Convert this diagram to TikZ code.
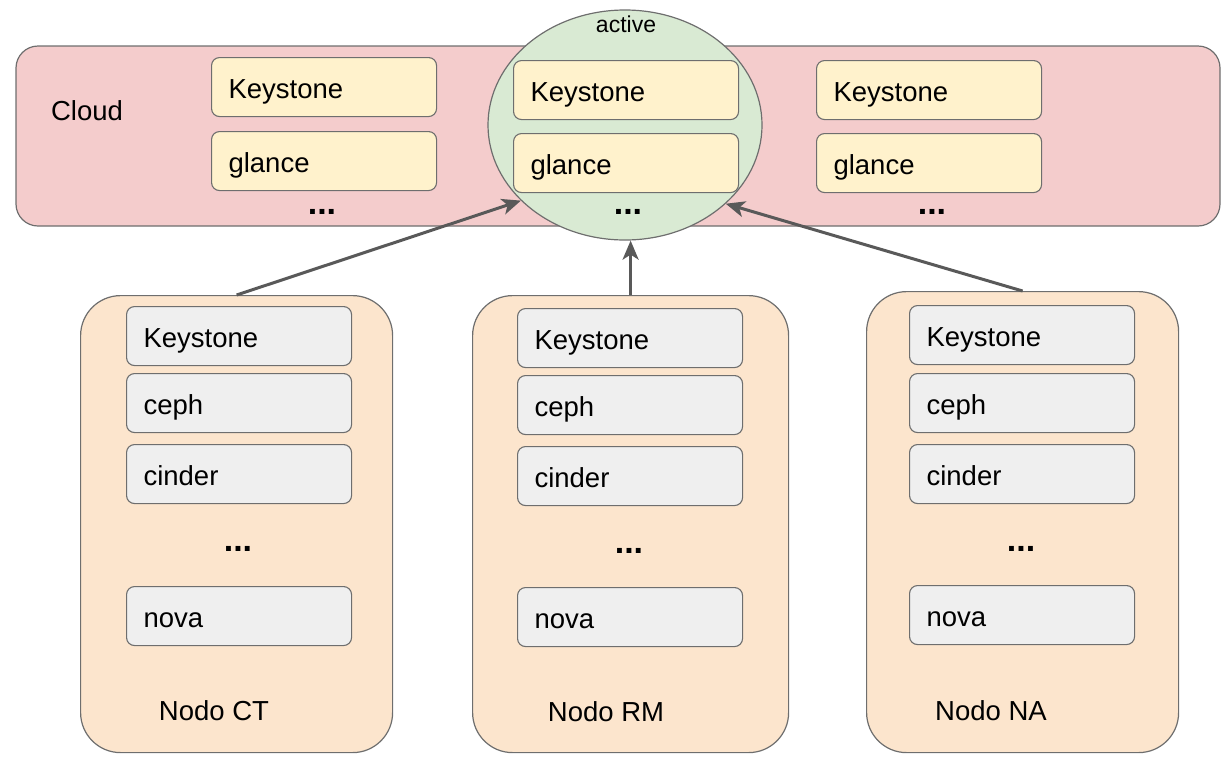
\documentclass[tikz,border=0pt]{standalone}
\usepackage{fontspec}
\setmainfont{Liberation Sans}
\usetikzlibrary{shapes.geometric,arrows.meta}
\definecolor{cloudfill}{HTML}{F4CCCC}
\definecolor{yfill}{HTML}{FFF2CC}
\definecolor{gfill}{HTML}{D9EAD3}
\definecolor{nfill}{HTML}{FCE5CD}
\definecolor{ifill}{HTML}{EFEFEF}
\definecolor{edge}{HTML}{6E6E6E}
\definecolor{arr}{HTML}{595959}
\tikzset{
  txt/.style={font=\fontsize{27.5}{32}\selectfont, text=black},
  cloudbox/.style={draw=edge, fill=cloudfill, line width=1.2pt, rounded corners=22pt},
  nodebox/.style={draw=edge, fill=nfill, line width=1.2pt, rounded corners=40pt},
  svc/.style={txt, draw=edge, line width=1.1pt, rounded corners=8pt, minimum width=225pt, minimum height=59pt,
     text width=191pt, inner xsep=17pt, inner ysep=0pt, align=left, anchor=north west,
     text height=22pt, text depth=0pt},
  ysvc/.style={svc, fill=yfill},
  gsvc/.style={svc, fill=ifill},
  dots/.style={font=\fontsize{34}{36}\selectfont\bfseries},
  conn/.style={draw=arr, line width=3pt, -{Stealth[length=19pt,width=16pt,inset=5pt]}},
}
\begin{document}
\begin{tikzpicture}[x=1pt,y=-1pt]
\useasboundingbox (0,0) rectangle (1230,756);
% cloud
\draw[cloudbox] (16,46) rectangle (1220,226);
\node[txt] (cloudlbl) at (87,111) {Cloud};
\node[draw=edge, fill=gfill, line width=1.2pt, ellipse, minimum width=274pt, minimum height=230pt, inner sep=0pt] (act) at (625,125) {};
\node[font=\fontsize{23}{26}\selectfont] (actlbl) at (626,24) {active};
% cloud services
\node[ysvc] (k1) at (211,57) {Keystone};
\node[ysvc] (g1) at (211,131) {glance};
\node[dots] (d1) at (322,212) {...};
\node[ysvc] (k2) at (513,60) {Keystone};
\node[ysvc] (g2) at (513,133) {glance};
\node[dots] (d2) at (628,212) {...};
\node[ysvc] (k3) at (816,60) {Keystone};
\node[ysvc] (g3) at (816,133) {glance};
\node[dots] (d3) at (932,212) {...};
% nodes
\node[nodebox, minimum width=312pt, minimum height=457pt, anchor=north west, inner sep=0pt] (ct) at (80,295) {};
\node[nodebox, minimum width=316pt, minimum height=457pt, anchor=north west, inner sep=0pt] (rm) at (472,295) {};
\node[nodebox, minimum width=312pt, minimum height=461pt, anchor=north west, inner sep=0pt] (na) at (866,291) {};
% CT
\node[gsvc] (ctk) at (126,306) {Keystone};
\node[gsvc] (ctc) at (126,373) {ceph};
\node[gsvc] (ctci) at (126,444) {cinder};
\node[dots] (ctd) at (238,549) {...};
\node[gsvc] (ctn) at (126,586) {nova};
\node[txt] (ctl) at (214,711) {Nodo CT};
% RM
\node[gsvc] (rmk) at (517,308) {Keystone};
\node[gsvc] (rmc) at (517,375) {ceph};
\node[gsvc] (rmci) at (517,446) {cinder};
\node[dots] (rmd) at (629,551) {...};
\node[gsvc] (rmn) at (517,587) {nova};
\node[txt] (rml) at (606,712) {Nodo RM};
% NA
\node[gsvc] (nak) at (909,305) {Keystone};
\node[gsvc] (nac) at (909,373) {ceph};
\node[gsvc] (naci) at (909,444) {cinder};
\node[dots] (nad) at (1021,549) {...};
\node[gsvc] (nan) at (909,585) {nova};
\node[txt] (nal) at (991,711) {Nodo NA};
% arrows
\draw[conn] (ct.north) -- (act.216);
\draw[conn] (rm.north) -- (rm.north |- act.south);
\draw[conn] (na.north) -- (act.322);
\end{tikzpicture}
\end{document}
